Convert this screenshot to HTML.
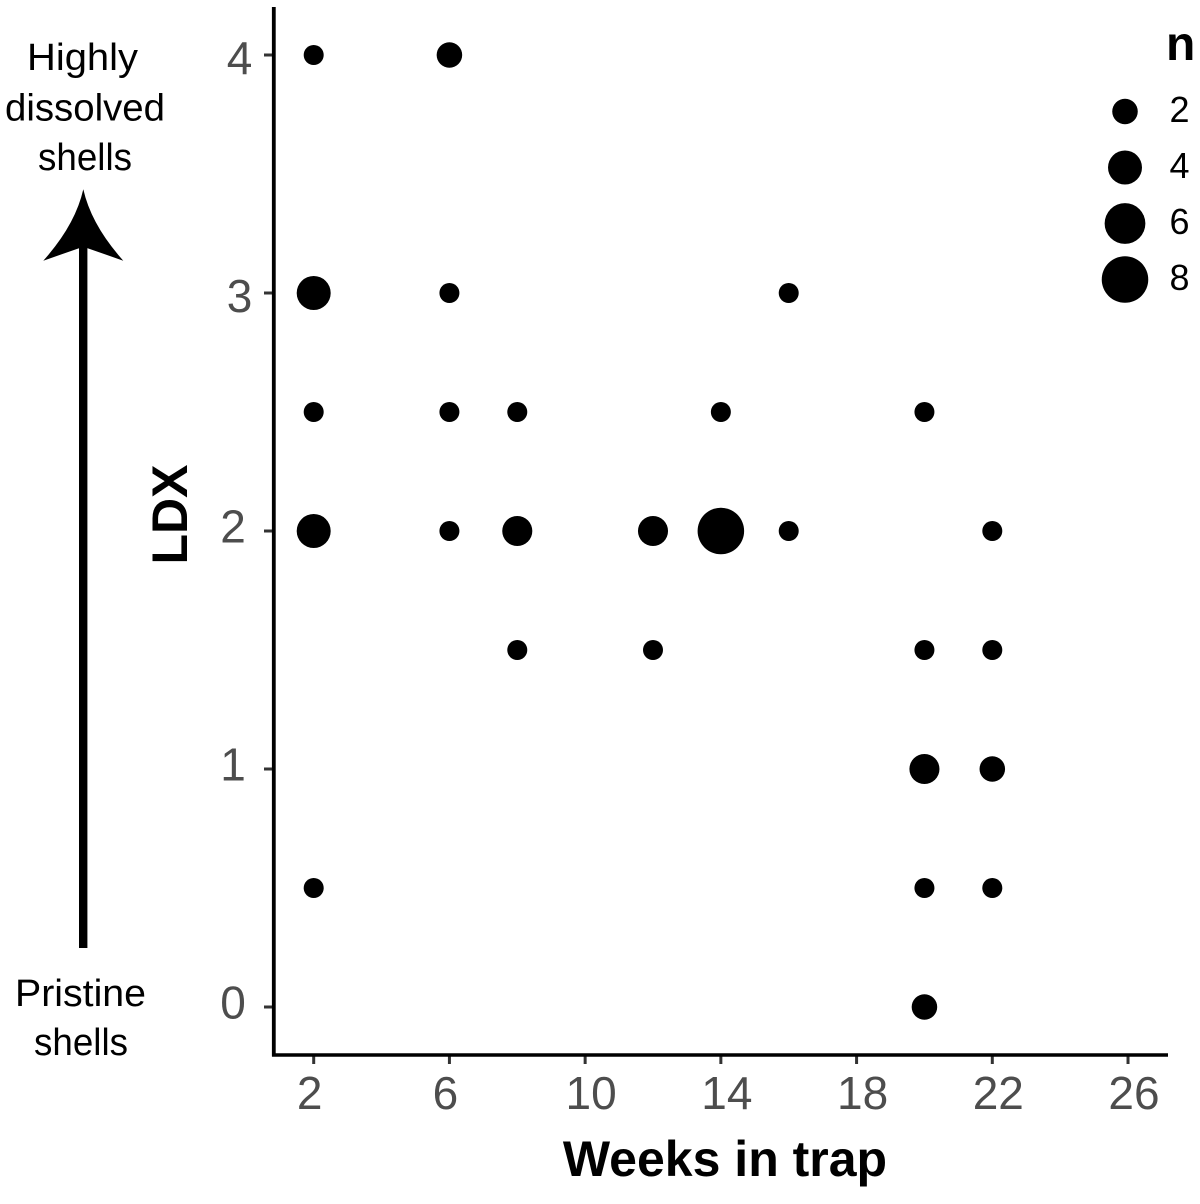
<!DOCTYPE html>
<html lang="en">
<head>
<meta charset="utf-8">
<title>LDX vs weeks in trap</title>
<style>
html,body{margin:0;padding:0;background:#fff;width:1200px;height:1204px;overflow:hidden}
svg{display:block}
text{font-family:"Liberation Sans",Arial,sans-serif}
</style>
</head>
<body>
<svg id="chart" xmlns="http://www.w3.org/2000/svg" width="1200" height="1204" viewBox="0 0 1200 1204">
  <rect width="1200" height="1204" fill="#fff"/>
  <g id="ticks"></g>
  <line x1="273.8" y1="7" x2="273.8" y2="1056.5" stroke="#000" stroke-width="3.8"/>
  <line x1="272" y1="1055" x2="1168" y2="1055" stroke="#000" stroke-width="3.6"/>
  <g id="tick-labels"></g>
  <g id="points"></g>
  <text x="725" y="1176" text-anchor="middle" font-size="50" font-weight="700" fill="#000">Weeks in trap</text>
  <text transform="translate(187 514.5) rotate(-90)" text-anchor="middle" font-size="50" font-weight="700" fill="#000">LDX</text>
  <g id="legend">
    <text x="1166" y="60" font-size="48" font-weight="700" fill="#000">n</text>
  </g>
  <g>
    <text x="82.5" y="70" text-anchor="middle" font-size="38" fill="#000" textLength="111" lengthAdjust="spacingAndGlyphs">Highly</text>
    <text x="85" y="120.5" text-anchor="middle" font-size="38" fill="#000" textLength="160" lengthAdjust="spacingAndGlyphs">dissolved</text>
    <text x="85" y="170" text-anchor="middle" font-size="38" fill="#000" textLength="94" lengthAdjust="spacingAndGlyphs">shells</text>
    <rect x="79" y="240" width="8.4" height="708" fill="#000"/>
    <path d="M83.3 189.3 Q91.3 225 123.3 260.7 L83.3 246.7 L43.3 260.7 Q75.3 225 83.3 189.3 Z" fill="#000"/>
    <text x="80.5" y="1006" text-anchor="middle" font-size="38" fill="#000" textLength="131" lengthAdjust="spacingAndGlyphs">Pristine</text>
    <text x="81" y="1055" text-anchor="middle" font-size="38" fill="#000" textLength="94" lengthAdjust="spacingAndGlyphs">shells</text>
  </g>
</svg>
<script>
var xTickValues = [2, 6, 10, 14, 18, 22, 26];
var yTickValues = [0, 1, 2, 3, 4];
var weeks = [2, 6, 2, 6, 16, 2, 6, 8, 14, 20, 2, 6, 8, 12, 14, 16, 22, 8, 12, 20, 22, 20, 22, 2, 20, 22, 20];
var ldx = [4, 4, 3, 3, 3, 2.5, 2.5, 2.5, 2.5, 2.5, 2, 2, 2, 2, 2, 2, 2, 1.5, 1.5, 1.5, 1.5, 1, 1, 0.5, 0.5, 0.5, 0];
var counts = [1, 2, 4, 1, 1, 1, 1, 1, 1, 1, 4, 1, 3, 3, 8, 1, 1, 1, 1, 1, 1, 3, 2, 1, 1, 1, 2];
var legendCounts = [2, 4, 6, 8];

var SVG_NS = 'http://www.w3.org/2000/svg';

function xScale(week) {
  return 313.7 + (week - 2) * 33.93;
}
function yScale(value) {
  return 1007 - value * 238;
}
function sizeScale(n) {
  return Math.sqrt(100 + (n - 1) * 63);
}
function xLabelCenter(tick) {
  return xScale(tick) + (String(tick).length > 1 ? 6 : -4);
}
function yLabelCenter(tick) {
  return tick >= 3 ? 239.5 : 233;
}
function yLabelBaseline(tick) {
  return yScale(tick) + (tick >= 3 ? 19 : 11.5);
}
function make(tag, attrs, parent) {
  var el = document.createElementNS(SVG_NS, tag);
  Object.keys(attrs).forEach(function (k) { el.setAttribute(k, attrs[k]); });
  parent.appendChild(el);
  return el;
}

var tickGroup = document.getElementById('ticks');
var labelGroup = document.getElementById('tick-labels');
var pointGroup = document.getElementById('points');
var legendGroup = document.getElementById('legend');

xTickValues.forEach(function (t) {
  var tick = make('line', {x1: xScale(t), x2: xScale(t), y1: 1055, y2: 1064, stroke: '#333', 'stroke-width': 3}, tickGroup);
  
  
  var label = make('text', {x: xLabelCenter(t), y: 1109, 'text-anchor': 'middle', 'font-size': 46, fill: '#4d4d4d'}, labelGroup);
  label.textContent = String(t);
  
  
});

yTickValues.forEach(function (t) {
  var tick = make('line', {x1: 264, x2: 273, y1: yScale(t), y2: yScale(t), stroke: '#333', 'stroke-width': 3}, tickGroup);
  
  
  var label = make('text', {x: yLabelCenter(t), y: yLabelBaseline(t), 'text-anchor': 'middle', 'font-size': 46, fill: '#4d4d4d'}, labelGroup);
  label.textContent = String(t);
  
  
});

weeks.forEach(function (w, i) {
  var dot = make('circle', {cx: xScale(w), cy: yScale(ldx[i]), r: sizeScale(counts[i]), fill: '#000'}, pointGroup);
  
  
});

legendCounts.forEach(function (n, i) {
  var cy = 111.5 + i * 56;
  var key = make('circle', {cx: 1125, cy: cy, r: sizeScale(n), fill: '#000'}, legendGroup);
  
  
  var label = make('text', {x: 1169.5, y: cy + 10.5, 'font-size': 36, fill: '#000'}, legendGroup);
  label.textContent = String(n);
  
  
});
</script>
</body>
</html>
